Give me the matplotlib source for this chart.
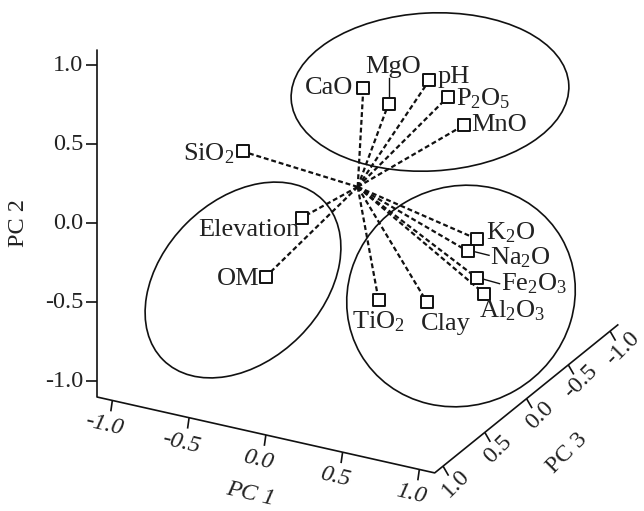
import numpy as np
import matplotlib
matplotlib.use("Agg")
import matplotlib.pyplot as plt
from matplotlib.patches import Ellipse

plt.rcParams['font.family'] = ['Liberation Serif', 'DejaVu Serif']
plt.rcParams['mathtext.fontset'] = 'custom'
plt.rcParams['mathtext.rm'] = 'Liberation Serif'
plt.rcParams['mathtext.it'] = 'Liberation Serif:italic'

# ---- data: PCA loadings (PC1, PC2, PC3) ----
variables = ['CaO', 'MgO', 'pH', 'P2O5', 'MnO', 'SiO2', 'Elevation', 'OM',
             'K2O', 'Na2O', 'Fe2O3', 'Al2O3', 'TiO2', 'Clay']
labels = ['CaO', 'MgO', 'pH', r'P$_2$O$_5$', 'MnO', r'SiO$_2$', 'Elevation', 'OM',
          r'K$_2$O', r'Na$_2$O', r'Fe$_2$O$_3$', r'Al$_2$O$_3$', r'TiO$_2$', 'Clay']
pc1 = [0.20, 0.31, 0.52, 0.64, 0.69, -0.64, -0.20, -0.49,
       0.67, 0.61, 0.72, 0.77, 0.19, 0.45]
pc2 = [0.80, 0.68, 0.83, 0.75, 0.54, 0.17, -0.11, -0.59,
       -0.27, -0.36, -0.46, -0.55, -0.63, -0.63]
pc3 = [0.30, 0.20, 0.10, 0.10, 0.00, 0.20, 0.30, 0.20,
       -0.20, -0.20, -0.10, -0.10, 0.10, 0.00]
ticks = [-1.0, -0.5, 0.0, 0.5, 1.0]
tick_labels = ['-1.0', '-0.5', '0.0', '0.5', '1.0']
lim = 1.1

# ---- oblique projection of the 3D loading space ----
S = 158.0  # pixels per PC2 unit
def proj(a, b, c):
    a = np.asarray(a, float); b = np.asarray(b, float); c = np.asarray(c, float)
    x = (153.5 * a - 83.5 * c) / S
    y = b - (34.5 * a + 67.5 * c) / S
    return x, y

W, H = 644, 511
ox, oy = 357.7, 186.9
fig = plt.figure(figsize=(W / 100, H / 100), dpi=100)
ax = fig.add_axes([0, 0, 1, 1])
ax.set_xlim(-ox / S, (W - ox) / S)
ax.set_ylim(-(H - oy) / S, oy / S)
ax.axis('off')

px = 1.0 / S
lw_axis = 1.2
kw_ax = dict(color='#111111', lw=lw_axis, solid_capstyle='butt', zorder=3)

# axes
x0, y0 = proj(-lim, -lim, lim)
x1, y1 = proj(lim, -lim, lim)
x2, y2 = proj(-lim, lim, lim)
x3, y3 = proj(lim, -lim, -lim)
ax.plot([x2, x0, x1, x3], [y2, y0, y1, y3], **kw_ax)

tick_len = 11 * px
txt_col = '#222222'
# PC2 ticks
for t, lab in zip(ticks, tick_labels):
    tx, ty = proj(-lim, t, lim)
    ax.plot([tx, tx - tick_len], [ty, ty], **kw_ax)
    ax.text(tx - 14 * px, ty, lab, ha='right', va='center', fontsize=17.5, color=txt_col)
# PC1 ticks
d1 = np.array([-0.14, -0.99])
for t, lab in zip(ticks, tick_labels):
    tx, ty = proj(t, -lim, lim)
    ax.plot([tx, tx + d1[0] * tick_len], [ty, ty + d1[1] * tick_len], **kw_ax)
    ax.text(tx - 8 * px, ty - 25 * px, lab, ha='center', va='center', fontsize=17.5,
            style='italic', rotation=-13, color=txt_col)
# PC3 ticks
d3 = np.array([0.5, -0.866])
for t, lab in zip(ticks, tick_labels):
    tx, ty = proj(lim, -lim, t)
    ax.plot([tx, tx + d3[0] * tick_len], [ty, ty + d3[1] * tick_len], **kw_ax)
    ax.text(tx + 13 * px, ty - 17 * px, lab, ha='center', va='center', fontsize=17.5,
            rotation=45, color=txt_col)

# axis titles
ax.text(18 * px - ox / S, (oy - 223) / S, 'PC 2', rotation=90, ha='center', va='center',
        fontsize=17.5, color=txt_col)
ax.text((250 - ox) / S, (oy - 494) / S, 'PC 1', rotation=-13, ha='center', va='center',
        fontsize=17.5, style='italic', color=txt_col)
ax.text((567 - ox) / S, (oy - 453) / S, 'PC 3', rotation=45, ha='center', va='center',
        fontsize=17.5, color=txt_col)

# group ellipses (screen-plane outlines)
ell_kw = dict(fill=False, ec='#111111', lw=1.2, zorder=2)
ax.add_patch(Ellipse(((430 - ox) / S, (oy - 92) / S), 278 / S, 158 / S, angle=3, **ell_kw))
ax.add_patch(Ellipse(((243 - ox) / S, (oy - 280) / S), 226 / S, 160 / S, angle=45, **ell_kw))
ax.add_patch(Ellipse(((461 - ox) / S, (oy - 296) / S), 232 / S, 218 / S, angle=30, **ell_kw))

# loading vectors
X, Y = proj(pc1, pc2, pc3)
for xi, yi in zip(X, Y):
    ax.plot([0, xi], [0, yi], color='#111111', lw=1.6, ls=(0, (2.2, 1.3)), zorder=4)
ax.scatter(X, Y, marker='s', s=75, facecolor='white', edgecolor='#111111',
           linewidth=1.4, zorder=6)

# labels: offsets in pixels (dx right, dy up), alignment
lab_pos = {
    'CaO': (-10, 0, 'right'),
    'MgO': (5, 37, 'center'),
    'pH': (8, 3, 'left'),
    'P2O5': (8, -1, 'left'),
    'MnO': (8, 0, 'left'),
    'SiO2': (-8, -2, 'right'),
    'Elevation': (-2, -12, 'right'),
    'OM': (-6, -2, 'right'),
    'K2O': (9, 6, 'left'),
    'Na2O': (22, -6, 'left'),
    'Fe2O3': (24, -6, 'left'),
    'Al2O3': (-5, -17, 'left'),
    'TiO2': (0, -22, 'center'),
    'Clay': (-6, -22, 'left'),
}
for v, lab, xi, yi in zip(variables, labels, X, Y):
    dx, dy, ha = lab_pos[v]
    ax.text(xi + dx * px, yi + dy * px, lab, ha=ha, va='center', fontsize=19,
            color=txt_col, zorder=7)

# leader lines
i = variables.index('MgO')
ax.plot([X[i], X[i]], [Y[i] + 6 * px, Y[i] + 26 * px], color='#111111', lw=1.0, zorder=5)
i = variables.index('Na2O')
ax.plot([X[i] + 5 * px, X[i] + 21 * px], [Y[i], Y[i] - 4 * px], color='#111111', lw=1.0, zorder=5)
i = variables.index('Fe2O3')
ax.plot([X[i] + 5 * px, X[i] + 23 * px], [Y[i] - 1 * px, Y[i] - 6 * px], color='#111111', lw=1.0, zorder=5)

fig.savefig('out.png', dpi=100)
